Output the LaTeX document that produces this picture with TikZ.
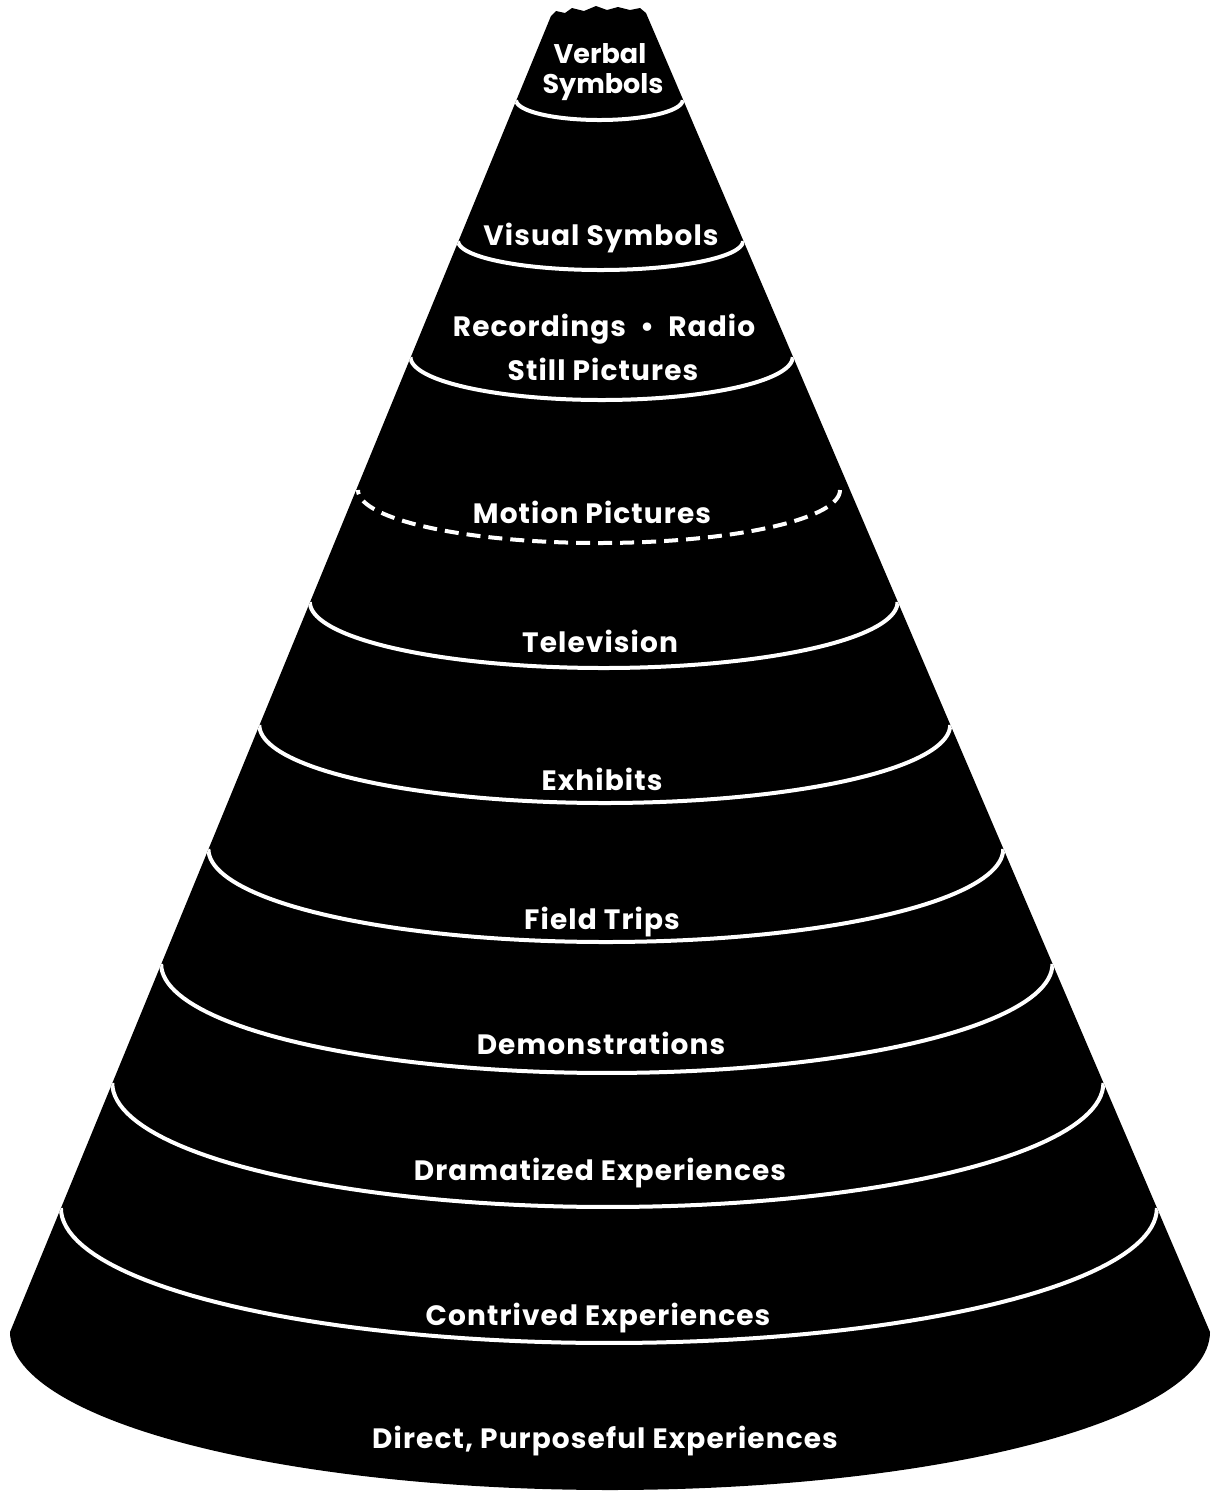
\documentclass[tikz,border=0pt]{standalone}
\usepackage{fontspec}
\newfontfamily\labfont{Poppins}[LetterSpace=4]
\newfontfamily\topfont{Poppins}
\begin{document}
\begin{tikzpicture}[x=0.5pt,y=-0.5pt,
  bandline/.style={white,line width=2pt},
  dashline/.style={white,line width=2pt,dash pattern=on 7pt off 4pt},
  lab/.style={text=white,font=\labfont\bfseries\fontsize{14}{16}\selectfont,anchor=base,inner sep=0pt},
  toplab/.style={text=white,font=\topfont\bfseries\fontsize{13.5}{16}\selectfont,anchor=base,inner sep=0pt}]
\fill[white] (0,0) rectangle (1211,1496);
\useasboundingbox (0,0) rectangle (1211,1496);
% cone body
\fill[black] (551,16) -- (556,11) -- (565,13) -- (572,8) -- (584,11) -- (596,6) -- (607,10) -- (618,7) -- (630,10) -- (640,8) -- (646,13)
  -- (1210,1332) -- plot[domain=0:180,samples=120] ({610+600*cos(\x)},{1332+158*sin(\x)}) -- cycle;
\begin{scope}
\clip (551,16) -- (646,13) -- (1210,1332) -- plot[domain=0:180,samples=120] ({610+600*cos(\x)},{1332+158*sin(\x)}) -- cycle;
\foreach \yy/\ry in {100/20,241/29,357/43,602/66,725/78,849/93,964/109,1083/124,1208/135}{
  \pgfmathsetmacro\xl{551-0.4108*(\yy-15)}
  \pgfmathsetmacro\xr{645+0.428*(\yy-12)}
  \pgfmathsetmacro\cx{(\xl+\xr)/2}
  \pgfmathsetmacro\rx{(\xr-\xl)/2}
  \draw[bandline] plot[domain=0:180,samples=90] ({\cx+\rx*cos(\x)},{\yy+\ry*sin(\x)});
}
\draw[dashline] plot[domain=0:180,samples=120] ({599+241*cos(\x)},{490+53*sin(\x)});
\end{scope}
% labels
\node[toplab] (verbal) at (600,63) {Verbal};
\node[toplab] (symbols) at (603,93) {Symbols};
\node[lab] (visual) at (601,245) {Visual Symbols};
\node[lab] (rec) at (604,336) {Recordings\ \ •\ \ Radio};
\node[lab] (still) at (603,380) {Still Pictures};
\node[lab] (motion) at (592,523) {Motion Pictures};
\node[lab] (tv) at (600,652) {Television};
\node[lab] (exh) at (602,790) {Exhibits};
\node[lab] (field) at (602,929) {Field Trips};
\node[lab] (demo) at (601,1054) {Demonstrations};
\node[lab] (dram) at (600,1180) {Dramatized Experiences};
\node[lab] (contr) at (598,1325) {Contrived Experiences};
\node[lab] (direct) at (605,1448) {Direct, Purposeful Experiences};
\end{tikzpicture}
\end{document}
